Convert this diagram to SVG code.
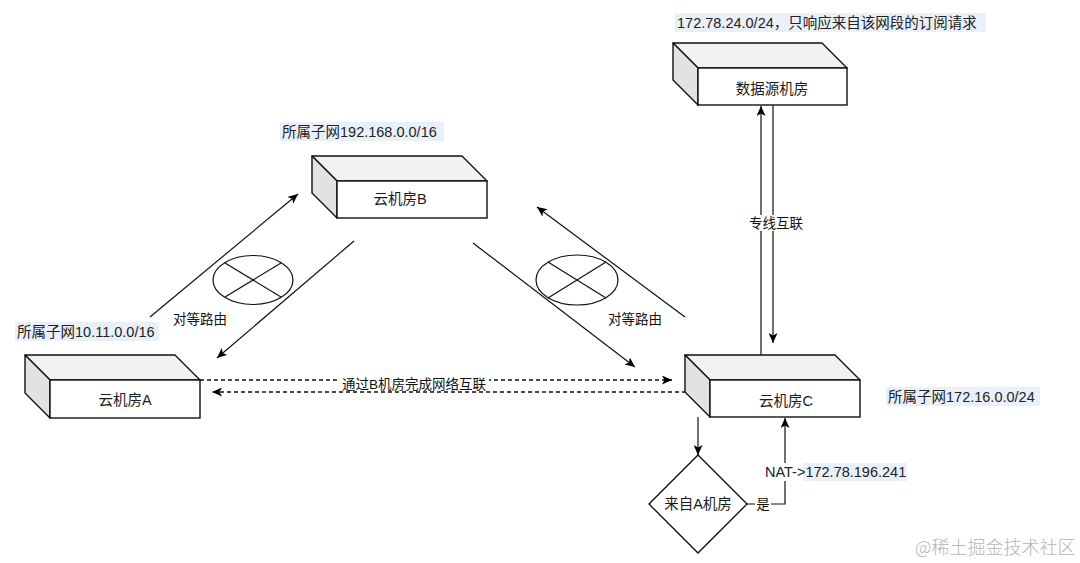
<svg xmlns="http://www.w3.org/2000/svg" width="1080" height="563" viewBox="0 0 1080 563">
<defs>
<marker id="arr" markerUnits="userSpaceOnUse" markerWidth="11" markerHeight="9" refX="10" refY="4.5" orient="auto">
<path d="M0,0 L10,4.5 L0,9 L2.5,4.5 Z" fill="#000"/>
</marker>
</defs>
<style>
text{font-family:"Liberation Sans","Noto Sans CJK SC",sans-serif;}
.top{fill:#f1f1f1;stroke:#111;stroke-width:1.4;stroke-linejoin:round}
.side{fill:#e2e2e2;stroke:#111;stroke-width:1.4;stroke-linejoin:round}
.front{fill:#fff;stroke:#111;stroke-width:1.4}
.box-t{font-size:14.5px;fill:#1a1a1a;text-anchor:middle}
.lbl{font-size:14.5px;fill:#222}
.hl{fill:#eaf0f9}
.ln{stroke:#111;stroke-width:1.2;fill:none}
.dash{stroke:#111;stroke-width:1.3;fill:none;stroke-dasharray:4 3}
.ct{font-size:13.5px;fill:#111;text-anchor:middle}
</style>
<rect width="1080" height="563" fill="#fff"/>

<g id="connectors">
  <line class="ln" x1="150" y1="317" x2="298" y2="194" marker-end="url(#arr)"/>
  <line class="ln" x1="354" y1="241" x2="217" y2="358" marker-end="url(#arr)"/>
  <g id="cross-left">
    <ellipse class="ln" cx="253" cy="280" rx="40" ry="24.5"/>
    <line class="ln" x1="225" y1="263" x2="281" y2="297"/>
    <line class="ln" x1="225" y1="297" x2="281" y2="263"/>
  </g>
  <text class="ct" x="200" y="324">对等路由</text>
  <line class="ln" x1="473" y1="243" x2="635" y2="367" marker-end="url(#arr)"/>
  <line class="ln" x1="685" y1="317" x2="537" y2="207" marker-end="url(#arr)"/>
  <g id="cross-right">
    <ellipse class="ln" cx="577" cy="280" rx="41" ry="25"/>
    <line class="ln" x1="548" y1="262" x2="606" y2="298"/>
    <line class="ln" x1="548" y1="298" x2="606" y2="262"/>
  </g>
  <text class="ct" x="635" y="324">对等路由</text>
  <line class="dash" x1="200" y1="380" x2="672" y2="380" marker-end="url(#arr)"/>
  <line class="dash" x1="686" y1="392" x2="212" y2="392" marker-end="url(#arr)"/>
  <rect x="340" y="376" width="149" height="14" fill="#fff"/>
  <text class="ct" x="414" y="389">通过B机房完成网络互联</text>
  <line class="ln" x1="761" y1="355" x2="761" y2="106" marker-end="url(#arr)"/>
  <line class="ln" x1="773" y1="105" x2="773" y2="343" marker-end="url(#arr)"/>
  <rect x="747" y="215" width="58" height="16" fill="#fff"/>
  <text class="ct" x="776" y="228">专线互联</text>
  <line class="ln" x1="698" y1="417" x2="698" y2="455" marker-end="url(#arr)"/>
  <polyline class="ln" points="747,504 785,504 785,418" marker-end="url(#arr)"/>
  <rect x="755" y="496" width="16" height="16" fill="#fff"/>
  <text class="ct" x="763" y="509">是</text>
  <rect x="763" y="463" width="145" height="18" fill="#fff"/>
  <rect class="hl" x="803" y="463" width="104" height="18"/>
  <text class="lbl" x="765" y="477" font-size="14">NAT-&gt;172.78.196.241</text>
</g>

<g id="node-A">
  <polygon class="top" points="25,355 175,355 200,380 50,380"/>
  <polygon class="side" points="25,355 50,380 50,418 25,393"/>
  <rect class="front" x="50" y="380" width="150" height="38"/>
  <text class="box-t" x="125" y="405">云机房A</text>
</g>
<g id="label-A">
  <rect class="hl" x="15" y="322" width="144" height="19"/>
  <text class="lbl" x="17" y="337">所属子网10.11.0.0/16</text>
</g>

<g id="node-B">
  <polygon class="top" points="312,156 462,156 487,181 337,181"/>
  <polygon class="side" points="312,156 337,181 337,218 312,193"/>
  <rect class="front" x="337" y="181" width="150" height="37"/>
  <text class="box-t" x="400" y="204">云机房B</text>
</g>
<g id="label-B">
  <rect class="hl" x="280" y="122" width="164" height="19"/>
  <text class="lbl" x="282" y="137">所属子网192.168.0.0/16</text>
</g>

<g id="node-D">
  <polygon class="top" points="673,43 822,43 847,68 698,68"/>
  <polygon class="side" points="673,43 698,68 698,105 673,80"/>
  <rect class="front" x="698" y="68" width="149" height="37"/>
  <text class="box-t" x="772" y="94">数据源机房</text>
</g>
<g id="label-D">
  <rect class="hl" x="675" y="13" width="311" height="19"/>
  <text class="lbl" x="677" y="28" font-size="15">172.78.24.0/24，只响应来自该网段的订阅请求</text>
</g>

<g id="node-C">
  <polygon class="top" points="685,355 835,355 860,380 710,380"/>
  <polygon class="side" points="685,355 710,380 710,417 685,392"/>
  <rect class="front" x="710" y="380" width="150" height="37"/>
  <text class="box-t" x="786" y="406">云机房C</text>
</g>
<g id="label-C">
  <rect class="hl" x="886" y="387" width="154" height="19"/>
  <text class="lbl" x="888" y="402">所属子网172.16.0.0/24</text>
</g>

<g id="node-diamond">
  <polygon points="698,455 747,504 698,553 649,504" fill="#fff" stroke="#111" stroke-width="1.4"/>
  <text class="box-t" x="698" y="509">来自A机房</text>
</g>

<text x="915" y="554" font-size="18" fill="#b5b5b5" style="font-family:'Noto Sans CJK SC',sans-serif;font-weight:300">@稀土掘金技术社区</text>
</svg>
